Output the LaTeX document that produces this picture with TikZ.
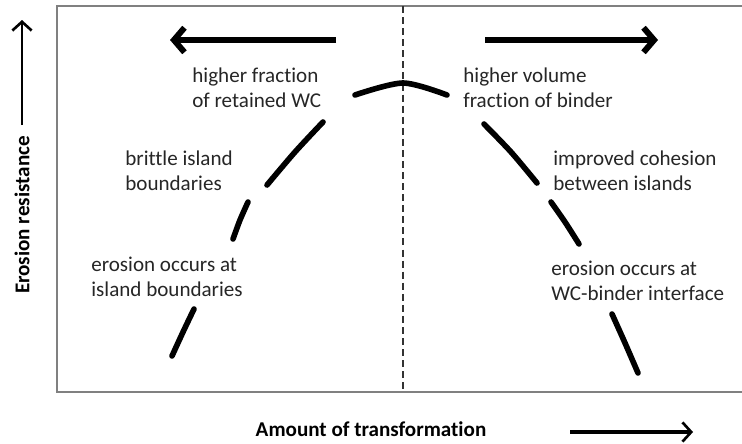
\documentclass[tikz,border=0pt]{standalone}
\usepackage{fontspec}
\setmainfont{Carlito}[Ligatures=NoCommon]
\usetikzlibrary{arrows.meta}

\begin{document}
\begin{tikzpicture}[x=0.02cm, y=-0.02cm, font=\fontsize{12}{14.2}\selectfont]
    \tikzset{
        lbl/.style      =   { align=left
                            , anchor=west
                            , inner sep=0pt
                            , text=black!85
        }
        , axislbl/.style =  { font=\fontsize{12}{14}\selectfont\bfseries
                            , inner sep=0pt
        }
        , curve/.style  =   { line width=3.2pt
                            , line cap=round
        }
        , fat/.style    =   { line width=3.4pt
                            , -{Straight Barb[length=6pt, width=14pt, line width=3.4pt]}
        }
        , thin/.style   =   { line width=1.5pt
                            , -{Straight Barb[length=5pt, width=11pt, line width=1.5pt]}
        }
    }
    \useasboundingbox (0,0) rectangle (742,443);

    % plot frame and the dividing line
    \draw[line width=1.1pt, color=black!50] (742,6) -- (57,6) -- (57,392) -- (742,392);
    \draw[line width=1.1pt, color=black!80, dash pattern=on 4pt off 2.3pt] (403,6) -- (403,392);

    % axes
    \node(ylbl)[axislbl, rotate=90] at (22,215) {Erosion resistance};
    \node(xlbl)[axislbl] at (371,429) {Amount of transformation};
    \coordinate(y0) at (22,125);
    \coordinate(y1) at (22,20);
    \coordinate(x0) at (570,432);
    \coordinate(x1) at (693,432);
    \draw[thin] (y0) -- (y1);
    \draw[thin, line width=2pt] (x0) -- (x1);

    % trend arrows
    \coordinate(l0) at (336,40);
    \coordinate(l1) at (170,40);
    \coordinate(r0) at (485,40);
    \coordinate(r1) at (658,40);
    \draw[fat] (l0) -- (l1);
    \draw[fat] (r0) -- (r1);

    % labels
    \node(retained)[lbl] at (192,88)  {higher fraction\\of retained WC};
    \node(brittle)[lbl]  at (125,171) {brittle island\\boundaries};
    \node(erosL)[lbl]    at (91,277)  {erosion occurs at\\island boundaries};
    \node(volume)[lbl]   at (463,88)  {higher volume\\fraction of binder};
    \node(cohesion)[lbl] at (553,171) {improved cohesion\\between islands};
    \node(erosR)[lbl]    at (551,281) {erosion occurs at\\WC-binder interface};

    % erosion resistance curve
    \draw[curve] plot[smooth] coordinates {(355,95) (403,83) (447,95)};
    \draw[curve] plot[smooth] coordinates {(323,122) (295,152) (267,185)};
    \draw[curve] plot[smooth] coordinates {(248,202) (240,220) (233,239)};
    \draw[curve] plot[smooth] coordinates {(194,309) (183,332) (172,356)};
    \draw[curve] plot[smooth] coordinates {(484,124) (511,152) (537,183)};
    \draw[curve] plot[smooth] coordinates {(551,202) (565,222) (579,244)};
    \draw[curve] plot[smooth] coordinates {(612,314) (625,343) (638,373)};
\end{tikzpicture}
\end{document}
